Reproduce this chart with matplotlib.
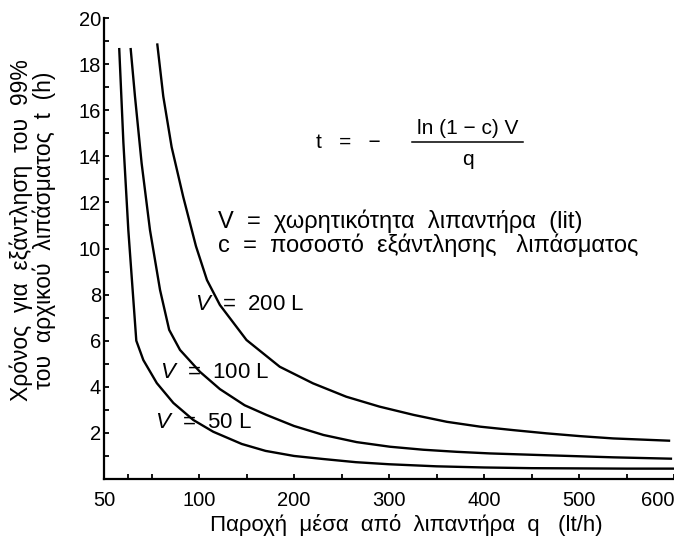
import numpy as np
import matplotlib
matplotlib.use("Agg")
import matplotlib.pyplot as plt

plt.rcParams['font.family'] = ['Liberation Sans', 'DejaVu Sans']
plt.rcParams['mathtext.fontset'] = 'custom'
plt.rcParams['mathtext.it'] = 'Liberation Sans:italic'
plt.rcParams['mathtext.rm'] = 'Liberation Sans'

# ---- data ----
q_v50 = [58, 60.2, 62.8, 67, 70.7, 77.8, 86.5, 97, 115, 145, 170, 200, 230, 265, 300, 350, 400, 450, 500, 550, 600]
t_v50 = [18.7, 14.6, 10.8, 6.0, 5.16, 4.16, 3.3, 2.56, 2.05, 1.52, 1.22, 1.0, 0.87, 0.73, 0.64, 0.55, 0.5, 0.47, 0.46, 0.45, 0.45]

q_v100 = [64, 66.3, 69.8, 74.2, 79.5, 84.3, 90, 101, 122, 148, 171, 200, 231, 266, 301, 336, 371, 406, 466, 536, 598]
t_v100 = [18.7, 16.6, 13.7, 10.8, 8.2, 6.47, 5.6, 4.65, 3.9, 3.2, 2.78, 2.3, 1.91, 1.6, 1.4, 1.27, 1.18, 1.11, 1.03, 0.94, 0.88]

q_v200 = [78, 81.2, 85.6, 91.7, 98.4, 108.4, 122, 150, 185, 220, 255, 290, 326, 361, 396, 431, 466, 501, 536, 596]
t_v200 = [18.9, 16.6, 14.4, 12.24, 10.1, 8.63, 7.55, 6.03, 4.87, 4.15, 3.57, 3.14, 2.78, 2.48, 2.27, 2.12, 1.98, 1.86, 1.76, 1.66]

curve_labels = [r"$V$  =  50 L", r"$V$  =  100 L", r"$V$  =  200 L"]
x_ticks = [50, 100, 200, 300, 400, 500, 600]
x_minor = [62.5, 75, 150, 250, 350, 450, 550]
y_ticks = [2, 4, 6, 8, 10, 12, 14, 16, 18, 20]
y_minor = [1, 3, 5, 7, 9, 11, 13, 15, 17, 19]

x_title = "Παροχή  μέσα  από  λιπαντήρα  q   (lt/h)"
y_title = "Χρόνος  για  εξάντληση  του  99%\nτου  αρχικού  λιπάσματος  t  (h)"
note1 = "V  =  χωρητικότητα  λιπαντήρα  (lit)"
note2 = "c  =  ποσοστό  εξάντλησης   λιπάσματος"


def fwd(q):
    q = np.asarray(q, float)
    return np.where(q < 100, 100 - (100 - q) * 2.0, q)


def inv(f):
    f = np.asarray(f, float)
    return np.where(f < 100, 100 - (100 - f) / 2.0, f)


W, H = 674, 540
fig = plt.figure(figsize=(W / 100, H / 100), dpi=100)
ax = fig.add_axes([104 / W, 61 / H, 570 / W, 461 / H])
ax.set_xscale('function', functions=(fwd, inv))
ax.set_xlim(50, 600)
ax.set_ylim(0, 20)

lw = 1.7
for q, t in [(q_v50, t_v50), (q_v100, t_v100), (q_v200, t_v200)]:
    ax.plot(q, t, color='black', lw=lw, solid_joinstyle='round', solid_capstyle='butt')

for s in ['top', 'right']:
    ax.spines[s].set_visible(False)
for s in ['left', 'bottom']:
    ax.spines[s].set_linewidth(1.6)

ax.set_xticks(x_ticks)
ax.set_xticklabels([str(v) for v in x_ticks])
ax.set_xticks(x_minor, minor=True)
ax.set_yticks(y_ticks)
ax.set_yticklabels([str(v) for v in y_ticks])
ax.set_yticks(y_minor, minor=True)
ax.tick_params(which='both', direction='in', length=3.5, width=1.3, labelsize=14.5)
ax.tick_params(axis='y', pad=2)
ax.tick_params(axis='x', pad=9)
lbls = ax.get_xticklabels()
lbls[-1].set_horizontalalignment('right')


def px(x, y):
    return (x / W, 1 - y / H)


fs = 16
fig.text(*px(406, 525), x_title, ha='center', va='center', fontsize=fs)
fig.text(*px(33, 230), y_title, ha='center', va='center', rotation=90,
         fontsize=16.5, linespacing=1.0, multialignment='center')

# formula
fig.text(*px(348, 143), "t   =   −", ha='center', va='center', fontsize=15)
fig.text(*px(468, 128), "ln (1 − c) V", ha='center', va='center', fontsize=15)
fig.add_artist(plt.Line2D([412 / W, 523 / W], [1 - 142 / H, 1 - 142 / H],
                          color='black', lw=1.1))
fig.text(*px(468, 159), "q", ha='center', va='center', fontsize=15)

fig.text(*px(218, 221), note1, ha='left', va='center', fontsize=17)
fig.text(*px(218, 245), note2, ha='left', va='center', fontsize=17)

fig.text(*px(155, 423), curve_labels[0], ha='left', va='center', fontsize=fs)
fig.text(*px(160, 372), curve_labels[1], ha='left', va='center', fontsize=fs)
fig.text(*px(195, 305), curve_labels[2], ha='left', va='center', fontsize=fs)

fig.savefig("out.png", dpi=100, facecolor='white')
